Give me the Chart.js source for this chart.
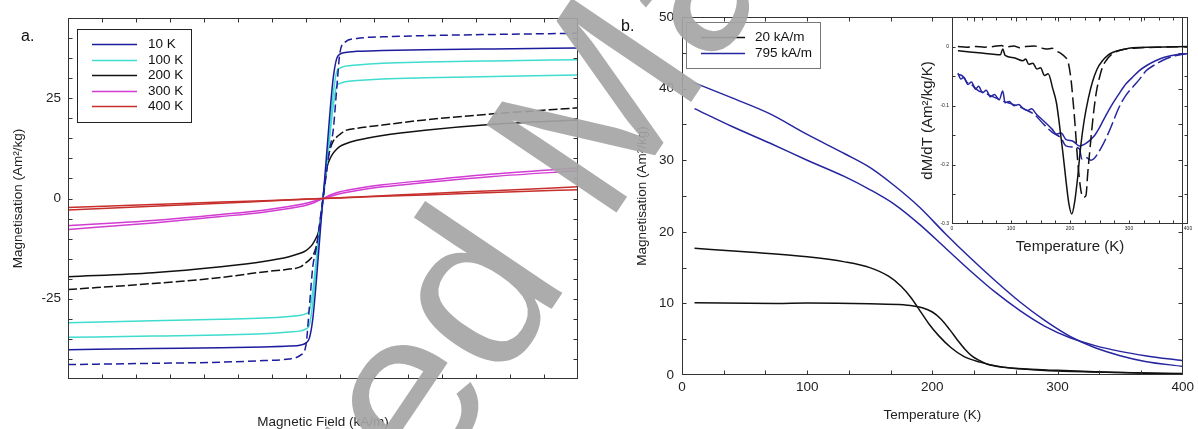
<!DOCTYPE html>
<html>
<head>
<meta charset="utf-8">
<script src="https://cdn.jsdelivr.net/npm/chart.js@4.4.0/dist/chart.umd.min.js"></script>
<style>
  html, body { margin: 0; padding: 0; background: #fff; }
  #wrap { position: relative; width: 1198px; height: 429px; overflow: hidden; background: #fff; }
  canvas { position: absolute; }
</style>
</head>
<body>
<div id="wrap">
  <canvas id="chartA" width="590" height="429" style="left:0;top:0"></canvas>
  <canvas id="chartB" width="608" height="429" style="left:590px;top:0"></canvas>
  <canvas id="chartInset" width="308" height="270" style="left:890px;top:0"></canvas>
  <canvas id="mark" width="1198" height="429" style="left:0;top:0;pointer-events:none"></canvas>
</div>
<script>
// ---- panel a : M(H) loops ----
const tempLabels = ['10 K', '100 K', '200 K', '300 K', '400 K'];
const fieldH = [-1500,-1000,-600,-350,-200,-130,-100,-80,-60,-40,-25,-10,0,10,25,40,60,80,100,130,200,350,600,1000,1500];
const m10Solid  = [-37.7,-37.4,-37.2,-37.0,-36.8,-36.5,-36.0,-34.8,-30.0,-21.0,-13.0,-5.0,0,5.0,13.0,21.0,30.0,34.8,36.0,36.4,36.7,36.9,37.1,37.3,37.5];
const m10Dash   = [-41.4,-41.1,-40.8,-40.4,-40.0,-39.0,-36.5,-27.0,-17.0,-12.5,-8.0,-3.0,0,3.0,8.0,12.5,17.0,27.0,36.5,39.0,39.9,40.3,40.6,40.9,41.2];
const m100Upper = [-34.6,-34.3,-34.0,-33.7,-33.3,-33.0,-32.5,-31.5,-26.0,-17.0,-10.0,-4.0,0,4.0,10.0,17.0,26.0,31.5,32.5,33.0,33.3,33.7,34.0,34.3,34.6];
const m100Lower = [-31.0,-30.5,-30.1,-29.8,-29.4,-29.1,-28.7,-28.0,-23.0,-15.5,-9.5,-4.0,0,4.0,9.5,15.5,23.0,28.0,28.7,29.1,29.4,29.8,30.1,30.4,30.8];
const m200Dash  = [-22.7,-21.2,-19.7,-18.3,-17.6,-17.0,-16.0,-15.3,-14.3,-12.0,-9.0,-4.0,0,4.0,9.0,12.0,14.3,15.3,16.0,16.9,17.5,18.3,19.6,21.1,22.6];
const m200Solid = [-19.5,-18.5,-17.0,-15.7,-14.5,-13.6,-13.0,-12.3,-11.3,-9.8,-8.0,-3.5,0,3.5,8.0,9.8,11.3,12.3,13.0,13.6,14.5,15.7,17.0,18.5,19.6];
const fieldLow = [-1500,-1000,-600,-350,-200,-100,-50,0,50,100,200,350,600,1000,1500];
const m300Upper = [-7.7,-6.1,-4.5,-3.4,-2.5,-1.7,-1.0,0,1.0,1.7,2.5,3.4,4.5,6.1,7.6];
const m300Lower = [-6.8,-5.5,-4.0,-2.9,-2.0,-1.2,-0.6,0,0.6,1.2,2.0,2.9,4.0,5.5,6.9];
const m400Upper = [-2.85,-1.95,-1.2,-0.7,-0.4,-0.2,-0.1,0,0.1,0.2,0.4,0.7,1.2,1.95,2.9];
const m400Lower = [-2.25,-1.5,-0.9,-0.55,-0.3,-0.15,-0.08,0,0.08,0.15,0.3,0.55,0.9,1.5,2.2];

// ---- panel b : M(T) ----
const fieldLabels = ['20 kA/m', '795 kA/m'];
const tempHighA = [10,40,70,100,130,150,170,190,210,230,250,270,290,310,330,350,370,400];
const mHighA    = [40.8,38.7,36.5,33.6,30.9,29.0,26.4,23.4,19.8,16.4,13.2,10.2,7.6,5.4,3.8,2.7,1.9,1.2];
const mHighB    = [37.2,34.7,32.4,30.0,27.7,25.9,23.8,21.0,17.8,14.6,11.6,9.0,6.8,5.2,4.1,3.3,2.7,2.0];
const tempLowA = [10,50,100,130,150,165,175,183,190,197,205,215,225,238,253,275,300,350,400];
const mLowA    = [17.7,17.2,16.5,15.8,15.0,13.8,12.4,10.8,9.0,7.2,5.5,3.8,2.6,1.8,1.2,0.8,0.55,0.35,0.22];
const tempLowB = [10,75,100,150,177,192,200,207,214,220,226,232,238,244,256,268,300,330,370,400];
const mLowB    = [10.1,10.0,10.05,9.95,9.8,9.4,8.8,7.8,6.3,4.9,3.6,2.6,2.0,1.5,1.1,0.9,0.65,0.45,0.25,0.15];

// ---- inset : dM/dT ----
const tInBlackSolid = [10,30,50,70,82,86,90,105,120,125,130,137,144,150,157,163,171,177,182,188,193,198,203,208,213,218,224,231,238,246,255,264,272,290,306,340,400];
const dBlackSolid   = [-0.007,-0.009,-0.011,-0.013,-0.014,-0.004,-0.015,-0.019,-0.024,-0.021,-0.03,-0.028,-0.038,-0.036,-0.049,-0.046,-0.072,-0.095,-0.131,-0.18,-0.225,-0.265,-0.283,-0.262,-0.221,-0.17,-0.125,-0.088,-0.06,-0.038,-0.024,-0.015,-0.01,-0.005,-0.002,-0.001,0];
const tInBlackDash = [10,25,40,55,70,84,90,105,115,125,140,150,160,170,178,185,190,197,202,205,208,213,218,222,227,230,233,237,241,245,250,255,261,272,290,320,360,400];
const dBlackDash   = [0,-0.001,0,-0.001,0,0.002,-0.001,0.001,-0.002,0,0.001,-0.002,-0.004,-0.003,-0.008,-0.012,-0.016,-0.027,-0.058,-0.09,-0.125,-0.193,-0.24,-0.255,-0.252,-0.215,-0.182,-0.14,-0.103,-0.075,-0.052,-0.035,-0.024,-0.012,-0.005,-0.002,-0.001,0];
const tInBlueSolid = [10,15,20,27,33,40,45,52,58,65,72,80,86,90,97,105,113,120,128,135,142,149,160,170,177,185,193,205,216,225,233,242,250,260,272,283,295,306,317,330,345,360,373,386,400];
const dBlueSolid   = [-0.045,-0.055,-0.052,-0.064,-0.06,-0.072,-0.067,-0.078,-0.074,-0.085,-0.081,-0.09,-0.075,-0.095,-0.093,-0.1,-0.098,-0.104,-0.108,-0.105,-0.113,-0.12,-0.13,-0.14,-0.148,-0.146,-0.157,-0.16,-0.168,-0.165,-0.159,-0.15,-0.137,-0.118,-0.097,-0.08,-0.063,-0.052,-0.041,-0.032,-0.024,-0.018,-0.015,-0.013,-0.012];
const tInBlueDash = [10,18,25,35,45,55,65,75,85,95,110,125,140,155,170,185,193,205,216,220,228,235,240,253,267,283,295,306,318,329,345,362,380,397];
const dBlueDash   = [-0.047,-0.05,-0.06,-0.066,-0.075,-0.078,-0.083,-0.087,-0.092,-0.095,-0.1,-0.107,-0.115,-0.131,-0.145,-0.155,-0.168,-0.17,-0.173,-0.19,-0.188,-0.192,-0.19,-0.171,-0.142,-0.103,-0.082,-0.069,-0.055,-0.041,-0.03,-0.021,-0.015,-0.012];

// styles
const tempColors = ['#1c1c9e', '#3fdccf', '#111111', '#d23cd2', '#c62f2c'];
const blueB = '#2626a0';
const ink = '#222';

Chart.defaults.font.family = '"Liberation Sans", Arial, sans-serif';
Chart.defaults.color = ink;

const toPoints = (xs, ys) => xs.map((x, i) => ({x: x, y: ys[i]}));

const line = (label, xs, ys, color, dash) => ({
    label: label,
    data: toPoints(xs, ys),
    borderColor: color,
    borderWidth: 1.5,
    borderDash: dash || [],
    pointRadius: 0,
    fill: false,
    cubicInterpolationMode: 'monotone'
});

const isMajor = (v, major) => Math.abs(v / major - Math.round(v / major)) < 1e-6;
const fmt = (v) => String(Math.round(v * 100) / 100);

const axis = (o) => ({
    type: 'linear',
    position: o.pos,
    min: o.min,
    max: o.max,
    grid: {display: false, drawTicks: false},
    border: {display: false},
    ticks: {
        stepSize: o.step,
        autoSkip: false,
        maxRotation: 0,
        padding: o.pad,
        font: {size: o.fs},
        color: ink,
        callback: (v) => isMajor(v, o.major) ? fmt(v) : ''
    },
    title: {display: true, text: o.title, font: {size: o.tfs, lineHeight: 1}, padding: o.tpad, color: ink},
    afterFit: (s) => {
        if (o.pos === 'bottom') s.height = o.size;
        else s.width = o.size;
    }
});

// box around plot + inward ticks + panel letter + boxed legend
const framePlugin = {
    id: 'frame',
    afterDraw(chart, args, opts) {
        const {ctx, chartArea: a} = chart;
        const l = Math.round(a.left) + 0.5, r = Math.round(a.right) - 0.5;
        const t = Math.round(a.top) + 0.5, b = Math.round(a.bottom) - 0.5;
        ctx.save();
        ctx.strokeStyle = opts.color || '#333';
        ctx.lineWidth = 1;
        ctx.strokeRect(l, t, r - l, b - t);
        const len = opts.tick || 4;
        ctx.beginPath();
        chart.scales.x.ticks.forEach((tk) => {
            const px = Math.round(chart.scales.x.getPixelForValue(tk.value)) + 0.5;
            if (px <= l + 1 || px >= r - 1) return;
            ctx.moveTo(px, b); ctx.lineTo(px, b - len);
            ctx.moveTo(px, t); ctx.lineTo(px, t + len);
        });
        chart.scales.y.ticks.forEach((tk) => {
            const py = Math.round(chart.scales.y.getPixelForValue(tk.value)) + 0.5;
            if (py <= t + 1 || py >= b - 1) return;
            ctx.moveTo(l, py); ctx.lineTo(l + len, py);
            ctx.moveTo(r, py); ctx.lineTo(r - len, py);
        });
        ctx.stroke();

        if (opts.letter) {
            ctx.fillStyle = '#111';
            ctx.font = opts.letter.size + 'px "Liberation Sans", Arial, sans-serif';
            ctx.textBaseline = 'middle';
            ctx.textAlign = 'left';
            ctx.fillText(opts.letter.text, opts.letter.x, opts.letter.y);
        }

        const lg = opts.legend;
        if (lg) {
            ctx.fillStyle = '#fff';
            ctx.fillRect(lg.box[0], lg.box[1], lg.box[2], lg.box[3]);
            ctx.strokeStyle = lg.border;
            ctx.lineWidth = lg.borderWidth || 1;
            ctx.strokeRect(lg.box[0] + 0.5, lg.box[1] + 0.5, lg.box[2], lg.box[3]);
            ctx.font = lg.size + 'px "Liberation Sans", Arial, sans-serif';
            ctx.textBaseline = 'middle';
            lg.labels.forEach((lab, i) => {
                const y = Math.round(lg.rowY + i * lg.rowStep) + 0.5;
                ctx.strokeStyle = lg.colors[i];
                ctx.lineWidth = 1.6;
                ctx.beginPath();
                ctx.moveTo(lg.lineX[0], y);
                ctx.lineTo(lg.lineX[1], y);
                ctx.stroke();
                ctx.fillStyle = '#111';
                ctx.fillText(lab, lg.textX, y);
            });
        }
        ctx.restore();
    }
};
Chart.register(framePlugin);

const baseOptions = (scales, frame, pad) => ({
    responsive: false,
    animation: false,
    events: [],
    layout: {padding: pad},
    plugins: {legend: {display: false}, tooltip: {enabled: false}, frame: frame},
    scales: scales
});

// ---------- chart a ----------
new Chart(document.getElementById('chartA'), {
    type: 'line',
    data: {
        datasets: [
            line('400 K', fieldLow, m400Upper, tempColors[4]),
            line('400 K b', fieldLow, m400Lower, tempColors[4]),
            line('300 K', fieldLow, m300Upper, tempColors[3]),
            line('300 K b', fieldLow, m300Lower, tempColors[3]),
            line('10 K', fieldH, m10Solid, tempColors[0]),
            line('10 K b', fieldH, m10Dash, tempColors[0], [8, 4]),
            line('100 K', fieldH, m100Upper, tempColors[1]),
            line('100 K b', fieldH, m100Lower, tempColors[1]),
            line('200 K', fieldH, m200Solid, tempColors[2]),
            line('200 K b', fieldH, m200Dash, tempColors[2], [9, 3])
        ]
    },
    options: baseOptions({
        x: axis({pos: 'bottom', min: -1500, max: 1500, step: 200, major: 1000, pad: 6, fs: 13.5,
                 title: 'Magnetic Field (kA/m)', tfs: 13.5, tpad: {top: 0, bottom: 0}, size: 50}),
        y: axis({pos: 'left', min: -45, max: 45, step: 5, major: 25, pad: 7, fs: 13.5,
                 title: 'Magnetisation (Am\u00B2/kg)', tfs: 13.5, tpad: {top: 12, bottom: 0}, size: 68})
    }, {
        color: '#333',
        letter: {text: 'a.', x: 21, y: 37, size: 16},
        legend: {box: [77, 29, 114, 93], border: '#222', size: 13.5, labels: tempLabels, colors: tempColors,
                 rowY: 44, rowStep: 15.5, lineX: [92, 137], textX: 148}
    }, {left: 0, right: 12, top: 18, bottom: 0})
});

// ---------- chart b ----------
new Chart(document.getElementById('chartB'), {
    type: 'line',
    data: {
        datasets: [
            line('795 kA/m', tempHighA, mHighA, blueB),
            line('795 kA/m b', tempHighA, mHighB, blueB),
            line('20 kA/m', tempLowA, mLowA, '#111'),
            line('20 kA/m b', tempLowB, mLowB, '#111')
        ]
    },
    options: baseOptions({
        x: axis({pos: 'bottom', min: 0, max: 400, step: 100 / 3, major: 100, pad: 4, fs: 13.5,
                 title: 'Temperature (K)', tfs: 13.5, tpad: {top: 0, bottom: 7}, size: 54}),
        y: axis({pos: 'left', min: 0, max: 50, step: 5, major: 10, pad: 8, fs: 13.5,
                 title: 'Magnetisation (Am\u00B2/kg)', tfs: 13.5, tpad: {top: 46, bottom: 0}, size: 92})
    }, {
        color: '#333',
        letter: {text: 'b.', x: 31, y: 27, size: 16},
        legend: {box: [96, 22, 134, 46], border: '#777', size: 13.5, labels: fieldLabels, colors: ['#111', blueB],
                 rowY: 37, rowStep: 15.5, lineX: [111, 155], textX: 165}
    }, {left: 0, right: 12, top: 17, bottom: 0})
});

// ---------- inset ----------
new Chart(document.getElementById('chartInset'), {
    type: 'line',
    data: {
        datasets: [
            line('20 kA/m', tInBlackSolid, dBlackSolid, '#111'),
            line('20 kA/m b', tInBlackDash, dBlackDash, '#111', [12, 5]),
            line('795 kA/m', tInBlueSolid, dBlueSolid, blueB),
            line('795 kA/m b', tInBlueDash, dBlueDash, blueB, [14, 4])
        ]
    },
    options: baseOptions({
        x: axis({pos: 'bottom', min: 0, max: 400, step: 25, major: 100, pad: 2, fs: 5,
                 title: 'Temperature (K)', tfs: 15, tpad: {top: 0, bottom: 15.5}, size: 46}),
        y: axis({pos: 'left', min: -0.3, max: 0.05, step: 0.05, major: 0.1, pad: 3, fs: 5,
                 title: 'dM/dT (Am\u00B2/kg/K)', tfs: 15, tpad: {top: 30.5, bottom: 0}, size: 62})
    }, {color: '#333', tick: 3}, {left: 0, right: 10, top: 17, bottom: 0})
});

// ---------- watermark ----------
const mark = document.getElementById('mark').getContext('2d');
const wmAngle = -56 * Math.PI / 180;
const wmSize = 228;
mark.save();
mark.translate(486, 300);
mark.rotate(wmAngle);
mark.font = wmSize + 'px "Liberation Sans", Arial, sans-serif';
mark.fillStyle = 'rgba(165,165,165,0.92)';
mark.textBaseline = 'alphabetic';
const pre = mark.measureText('Accepte').width;
const dW = mark.measureText('d').width;
mark.fillText('Accepted Manuscript', -pre - dW / 2, 0.26 * wmSize);
mark.restore();
</script>
</body>
</html>
